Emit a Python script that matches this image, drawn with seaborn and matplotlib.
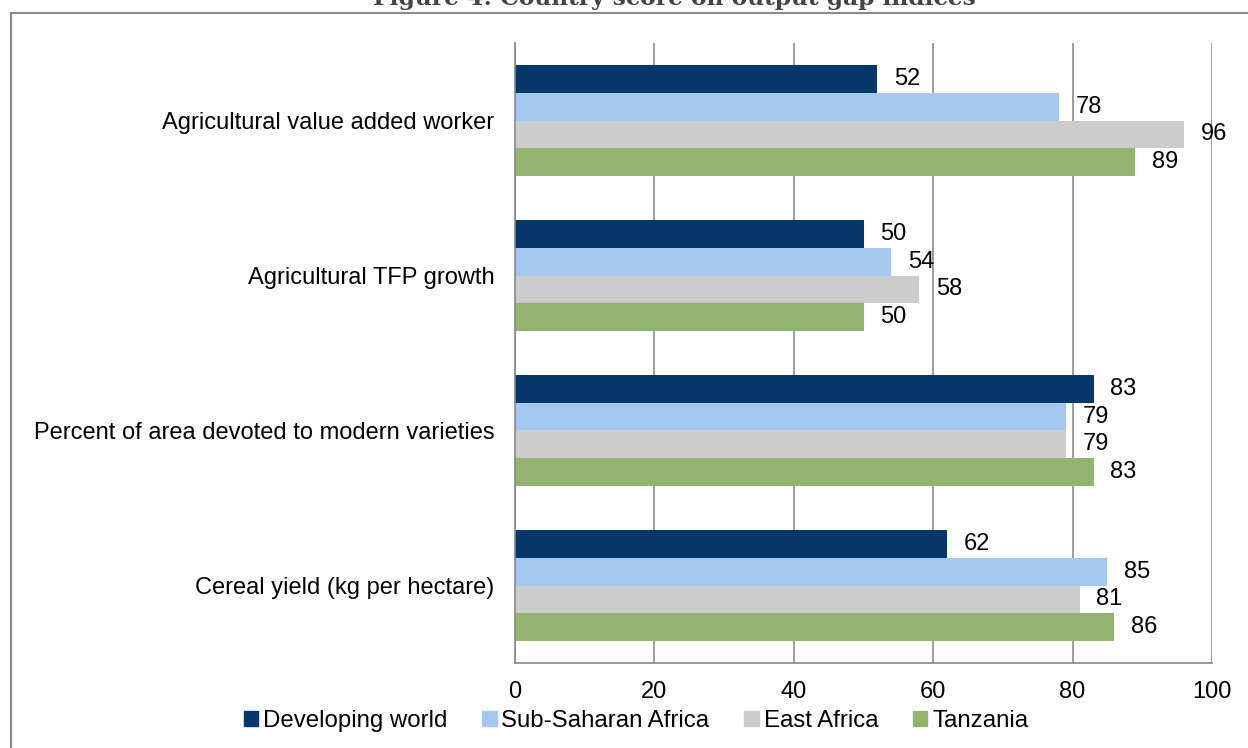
import pandas as pd
import seaborn as sns
import matplotlib.pyplot as plt
from matplotlib.patches import Rectangle

# ------------------------------
# DATA
# ------------------------------
indicators = [
    "Agricultural value added worker",
    "Agricultural TFP growth",
    "Percent of area devoted to modern varieties",
    "Cereal yield (kg per hectare)",
]
regions = ["Developing world", "Sub-Saharan Africa", "East Africa", "Tanzania"]
developing_world = [52, 50, 83, 62]
sub_saharan_africa = [78, 54, 79, 85]
east_africa = [96, 58, 79, 81]
tanzania = [89, 50, 83, 86]
x_ticks = [0, 20, 40, 60, 80, 100]

colors = ["#05376A", "#A5C8F1", "#CCCCCC", "#92B46F"]

rows = []
for reg, vals in zip(regions, [developing_world, sub_saharan_africa, east_africa, tanzania]):
    for ind, v in zip(indicators, vals):
        rows.append({"indicator": ind, "region": reg, "score": v})
df = pd.DataFrame(rows)

# ------------------------------
# PLOT
# ------------------------------
sns.set_style("white")
plt.rcParams["font.family"] = ["Liberation Sans", "DejaVu Sans"]
plt.rcParams["text.color"] = "black"
plt.rcParams["xtick.color"] = "black"
plt.rcParams["ytick.color"] = "black"

fig = plt.figure(figsize=(12.48, 7.48), dpi=100)
ax = fig.add_axes([515 / 1248, 1 - 663 / 748, (1212 - 515) / 1248, (663 - 43) / 748])

sns.barplot(data=df, y="indicator", x="score", hue="region", order=indicators,
            hue_order=regions, palette=colors, width=0.72, orient="h",
            saturation=1, linewidth=0, legend=False, ax=ax)

for cont in ax.containers:
    ax.bar_label(cont, fmt="%d", padding=12, fontsize=17, color="black")

ax.set_xlim(0, 100)
ax.set_ylim(3.5, -0.5)
ax.set_xticks(x_ticks)
ax.set_xlabel("")
ax.set_ylabel("")
ax.tick_params(axis="x", labelsize=17, length=7, color="#888888", pad=6, direction="out")
ax.tick_params(axis="y", which="major", labelsize=17, length=0, pad=15)
ax.set_yticks([-0.5, 0.5, 1.5, 2.5, 3.5], minor=True)
ax.tick_params(axis="y", which="minor", length=7, color="#888888", direction="out")
ax.grid(axis="x", color="#8c8c8c", linewidth=1.2)
ax.set_axisbelow(True)
for side in ["top", "right"]:
    ax.spines[side].set_visible(False)
for side in ["left", "bottom"]:
    ax.spines[side].set_color("#888888")
    ax.spines[side].set_linewidth(1.2)

# legend
handles = [plt.Rectangle((0, 0), 1, 1, color=c) for c in colors]
fig.legend(handles, regions, loc="center", bbox_to_anchor=(636 / 1248, 1 - 721 / 748),
           ncol=4, frameon=False, fontsize=17.3, handlelength=0.6, handleheight=0.6,
           handletextpad=0.2, columnspacing=1.45)

# outer frame and clipped title
fig.add_artist(Rectangle((11 / 1248, -0.05), 1.1, 1 - 13 / 748 + 0.05, transform=fig.transFigure,
                         fill=False, edgecolor="#8a8a8a", linewidth=1.5))
fig.text(674 / 1248, 1 - 5 / 748, "Figure 4: Country score on output gap indices",
         ha="center", va="baseline", fontsize=16.8, fontweight="bold",
         family="DejaVu Serif", color="#444444")

fig.savefig("out.png", dpi=100)
